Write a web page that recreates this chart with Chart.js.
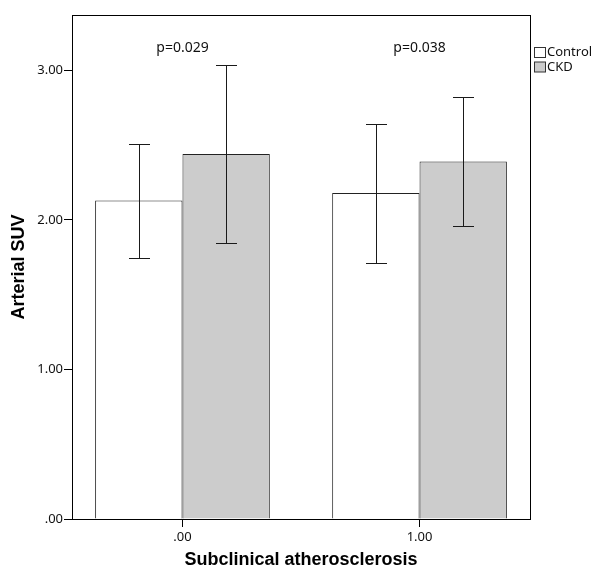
<!DOCTYPE html>
<html>
<head>
<meta charset="utf-8">
<script src="https://cdn.jsdelivr.net/npm/chart.js@4/dist/chart.umd.min.js"></script>
<style>
  html, body { margin:0; padding:0; background:#fff; }
  #wrap { width:600px; height:577px; }
</style>
</head>
<body>
<div id="wrap"><canvas id="chart" width="600" height="577"></canvas></div>
<script>
// groups on the x axis
const groups = ['.00', '1.00'];
const seriesNames = ['Control', 'CKD'];

// mean arterial SUV
const controlMean = [2.13, 2.18];
const ckdMean = [2.44, 2.39];

// error bar ends
const controlLow = [1.745, 1.71];
const controlHigh = [2.51, 2.64];
const ckdLow = [1.845, 1.96];
const ckdHigh = [3.035, 2.82];

// p-values above each group
const pLabels = ['p=0.029', 'p=0.038'];
const pLabelY = 3.15;

const yTicks = [0, 1, 2, 3];
const yTickLabels = ['.00', '1.00', '2.00', '3.00'];

const barColors = ['#ffffff', '#cccccc'];
const errLow = [controlLow, ckdLow];
const errHigh = [controlHigh, ckdHigh];

function toPoints(vals) {
  return vals.map((v, i) => ({ x: i, y: v }));
}

const tickFont = { family: '"Noto Sans", sans-serif', size: 13 };

const extras = {
  id: 'extras',
  afterDatasetsDraw(chart) {
    const ctx = chart.ctx;
    const xs = chart.scales.x, ys = chart.scales.y;
    const area = chart.chartArea;

    // error bars
    ctx.save();
    ctx.strokeStyle = '#1a1a1a';
    ctx.lineWidth = 1;
    chart.data.datasets.forEach((ds, d) => {
      const meta = chart.getDatasetMeta(d);
      meta.data.forEach((bar, j) => {
        const x = Math.round(bar.x) + 0.5;
        const y1 = Math.round(ys.getPixelForValue(errLow[d][j])) + 0.5;
        const y2 = Math.round(ys.getPixelForValue(errHigh[d][j])) + 0.5;
        ctx.beginPath();
        ctx.moveTo(x, y1); ctx.lineTo(x, y2);
        ctx.moveTo(x - 10.5, y1); ctx.lineTo(x + 10.5, y1);
        ctx.moveTo(x - 10.5, y2); ctx.lineTo(x + 10.5, y2);
        ctx.stroke();
      });
    });

    // frame round the plot
    ctx.strokeStyle = '#000';
    ctx.strokeRect(Math.round(area.left) + 0.5, Math.round(area.top) + 0.5,
      Math.round(area.right - area.left), Math.round(area.bottom - area.top));

    // p-values
    ctx.fillStyle = '#111';
    ctx.font = '14px "Noto Sans", sans-serif';
    ctx.textAlign = 'center';
    ctx.textBaseline = 'middle';
    pLabels.forEach((t, j) => {
      ctx.fillText(t, xs.getPixelForValue(j), ys.getPixelForValue(pLabelY));
    });

    // legend
    ctx.font = '13px "Noto Sans", sans-serif';
    ctx.textAlign = 'left';
    seriesNames.forEach((name, i) => {
      const top = 47 + i * 14.5;
      ctx.fillStyle = barColors[i];
      ctx.fillRect(534.5, top + 0.5, 11, 10);
      ctx.strokeStyle = '#333';
      ctx.strokeRect(534.5, top + 0.5, 11, 10);
      ctx.fillStyle = '#111';
      ctx.fillText(name, 547, top + 5.5);
    });
    ctx.restore();
  }
};

new Chart(document.getElementById('chart'), {
  type: 'bar',
  data: {
    datasets: seriesNames.map((name, i) => ({
      label: name,
      data: toPoints(i === 0 ? controlMean : ckdMean),
      backgroundColor: barColors[i],
      borderColor: '#222',
      borderWidth: 1,
      borderSkipped: 'bottom',
      categoryPercentage: 0.737,
      barPercentage: 1
    }))
  },
  options: {
    responsive: false,
    animation: false,
    layout: { padding: { top: 15, right: 70, left: 0, bottom: 0 } },
    plugins: { legend: { display: false }, tooltip: { enabled: false } },
    scales: {
      x: {
        type: 'linear',
        min: -0.466,
        max: 1.466,
        offset: false,
        afterBuildTicks: s => { s.ticks = groups.map((g, i) => ({ value: i })); },
        afterFit: s => { s.height = 58; },
        ticks: {
          callback: (v) => groups[v],
          font: tickFont,
          color: '#111',
          padding: 2,
          maxRotation: 0
        },
        grid: { drawOnChartArea: false, drawTicks: true, tickLength: 8, color: '#000', offset: false },
        border: { display: true, color: '#000' },
        title: {
          display: true,
          text: 'Subclinical atherosclerosis',
          font: { family: '"Liberation Sans", Arial, sans-serif', size: 18, weight: 'bold' },
          color: '#000',
          padding: { top: 0, bottom: 6 }
        }
      },
      y: {
        min: 0,
        max: 3.37,
        afterBuildTicks: s => { s.ticks = yTicks.map(v => ({ value: v })); },
        afterFit: s => { s.width = 72; },
        ticks: {
          callback: (v) => yTickLabels[yTicks.indexOf(v)],
          font: tickFont,
          color: '#111',
          padding: 1
        },
        grid: { drawOnChartArea: false, drawTicks: true, tickLength: 8, color: '#000' },
        border: { display: true, color: '#000' },
        title: {
          display: true,
          text: 'Arterial SUV',
          font: { family: '"Liberation Sans", Arial, sans-serif', size: 18, weight: 'bold' },
          color: '#000',
          padding: { top: 8, bottom: 0 }
        }
      }
    }
  },
  plugins: [extras]
});
</script>
</body>
</html>
